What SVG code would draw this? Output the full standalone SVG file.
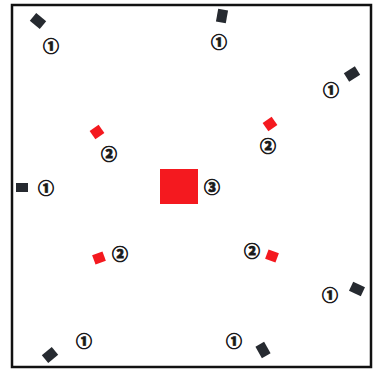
<svg xmlns="http://www.w3.org/2000/svg" width="376" height="370" viewBox="0 0 376 370">
<style>
.d{fill:#262a30}
.r{fill:#f4191f}
.t{font-family:"Noto Sans CJK SC","DejaVu Sans",sans-serif;font-size:16px;font-weight:900;fill:#1a1a1a;stroke:#1a1a1a;stroke-width:0.7;text-anchor:middle;dominant-baseline:central}
</style>
<rect x="0" y="0" width="376" height="370" fill="#fff"/>
<rect x="12" y="5" width="359" height="362" fill="none" stroke="#111" stroke-width="2.5"/>
<g id="n1"><rect class="d" x="-6.5" y="-5" width="13" height="10" transform="translate(38,21) rotate(40)"/><text class="t" x="51" y="45">①</text></g>
<g id="n2"><rect class="d" x="-5" y="-6.5" width="10" height="13" transform="translate(222,16) rotate(10)"/><text class="t" x="219" y="41">①</text></g>
<g id="n3"><rect class="d" x="-6.5" y="-5" width="13" height="10" transform="translate(352,74) rotate(-32)"/><text class="t" x="331" y="89">①</text></g>
<g id="n4"><rect class="r" x="-5.5" y="-5" width="11" height="10" transform="translate(97,132) rotate(-35)"/><text class="t" x="109" y="153">②</text></g>
<g id="n5"><rect class="r" x="-5.5" y="-5" width="11" height="10" transform="translate(270,124) rotate(-35)"/><text class="t" x="268" y="145">②</text></g>
<g id="n6"><rect class="d" x="16" y="183" width="12" height="9"/><text class="t" x="46" y="187">①</text></g>
<g id="n7"><rect class="r" x="160" y="169" width="38" height="35"/><text class="t" x="212" y="186">③</text></g>
<g id="n8"><rect class="r" x="-5.5" y="-5" width="11" height="10" transform="translate(99,258) rotate(-20)"/><text class="t" x="120" y="253">②</text></g>
<g id="n9"><rect class="r" x="-5.5" y="-5" width="11" height="10" transform="translate(272,256) rotate(20)"/><text class="t" x="252" y="250">②</text></g>
<g id="n10"><rect class="d" x="-6.5" y="-5" width="13" height="10" transform="translate(357,289) rotate(25)"/><text class="t" x="330" y="294">①</text></g>
<g id="n11"><rect class="d" x="-6.5" y="-5" width="13" height="10" transform="translate(50,355) rotate(-40)"/><text class="t" x="84" y="340">①</text></g>
<g id="n12"><rect class="d" x="-5" y="-6.5" width="10" height="13" transform="translate(263,350) rotate(-30)"/><text class="t" x="234" y="340">①</text></g>
<g id="connectors"></g>
</svg>
